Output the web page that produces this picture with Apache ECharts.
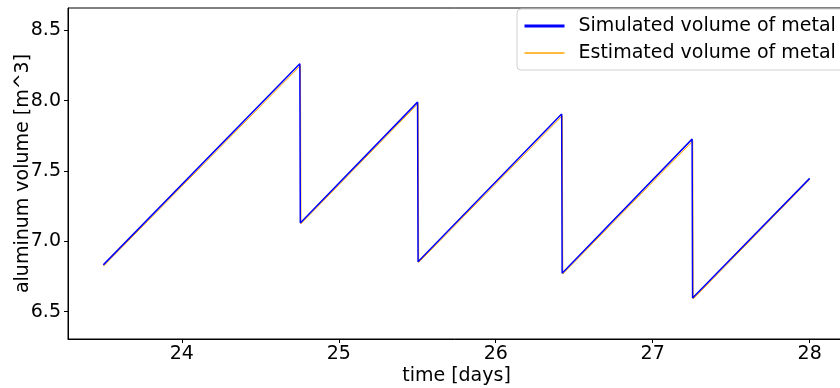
<!DOCTYPE html>
<html>
<head>
<meta charset="utf-8">
<script src="https://cdn.jsdelivr.net/npm/echarts@6/dist/echarts.min.js"></script>
<style>html,body{margin:0;padding:0;background:#fff;}#c{width:840px;height:388px;}</style>
</head>
<body>
<div id="c"></div>
<script>
const simTime = [23.5, 24.752, 24.755, 25.502, 25.505, 26.42, 26.423, 27.251, 27.254, 28.0];
const simVolume = [6.833, 8.262, 7.130, 7.990, 6.855, 7.905, 6.773, 7.727, 6.597, 7.448];
const estTime = [23.5, 24.756, 24.759, 25.506, 25.509, 26.424, 26.427, 27.255, 27.258, 28.0];
const estVolume = [6.823, 8.25, 7.125, 7.98, 6.85, 7.893, 6.768, 7.713, 6.59, 7.44];
const xTicks = [24, 25, 26, 27, 28];
const yTicks = [6.5, 7.0, 7.5, 8.0, 8.5];
const seriesNames = ['Simulated volume of metal', 'Estimated volume of metal'];

const pairs = (xs, ys) => xs.map((x, i) => [x, ys[i]]);
const font = 'DejaVu Sans';
const chart = echarts.init(document.getElementById('c'), null, {renderer: 'canvas'});
chart.setOption({
  animation: false,
  backgroundColor: '#fff',
  grid: {left: 68, right: -5, top: 8, bottom: 49, show: true, borderColor: '#000', borderWidth: 1, containLabel: false, outerBoundsMode: 'none'},
  legend: {
    show: true, orient: 'vertical', left: 517, top: 9,
    padding: [7, 12, 7, 6], itemWidth: 40, itemHeight: 14, itemGap: 7,
    backgroundColor: '#fff', borderColor: '#d0d0d0', borderWidth: 1, borderRadius: 4,
    textStyle: {fontFamily: font, fontSize: 19, color: '#000', lineHeight: 20, padding: [0, 0, 0, 9]},
    data: [
      {name: seriesNames[0], itemStyle: {opacity: 0}, lineStyle: {width: 3, opacity: 1}},
      {name: seriesNames[1], itemStyle: {opacity: 0}, lineStyle: {width: 1.3, opacity: 1}}
    ]
  },
  xAxis: {
    type: 'value', min: 23.275, max: 28.225,
    name: 'time [days]', nameLocation: 'middle', nameGap: 28, nameMoveOverlap: false,
    nameTextStyle: {fontFamily: font, fontSize: 19, color: '#000'},
    axisLine: {show: true, lineStyle: {color: '#000', width: 1}},
    axisTick: {show: true, length: 4, inside: false, customValues: xTicks, lineStyle: {color: '#000'}},
    axisLabel: {fontFamily: font, fontSize: 19, color: '#000', margin: 6, customValues: xTicks, formatter: v => String(v)},
    splitLine: {show: false}
  },
  yAxis: {
    type: 'value', min: 6.306, max: 8.659,
    name: 'aluminum volume [m^3]', nameLocation: 'middle', nameGap: 35, nameRotate: 90, nameMoveOverlap: false,
    nameTextStyle: {fontFamily: font, fontSize: 19, color: '#000'},
    axisLine: {show: true, lineStyle: {color: '#000', width: 1}},
    axisTick: {show: true, length: 4, inside: false, customValues: yTicks, lineStyle: {color: '#000'}},
    axisLabel: {fontFamily: font, fontSize: 19, color: '#000', margin: 7, customValues: yTicks, formatter: v => v.toFixed(1)},
    splitLine: {show: false}
  },
  series: [
    {name: seriesNames[0], type: 'line', data: pairs(simTime, simVolume), symbol: 'none', z: 3,
     lineStyle: {color: '#0000ff', width: 1.5}, itemStyle: {color: '#0000ff'}},
    {name: seriesNames[1], type: 'line', data: pairs(estTime, estVolume), symbol: 'none', z: 2,
     lineStyle: {color: '#ffa500', width: 1}, itemStyle: {color: '#ffa500'}}
  ]
});
</script>
</body>
</html>
